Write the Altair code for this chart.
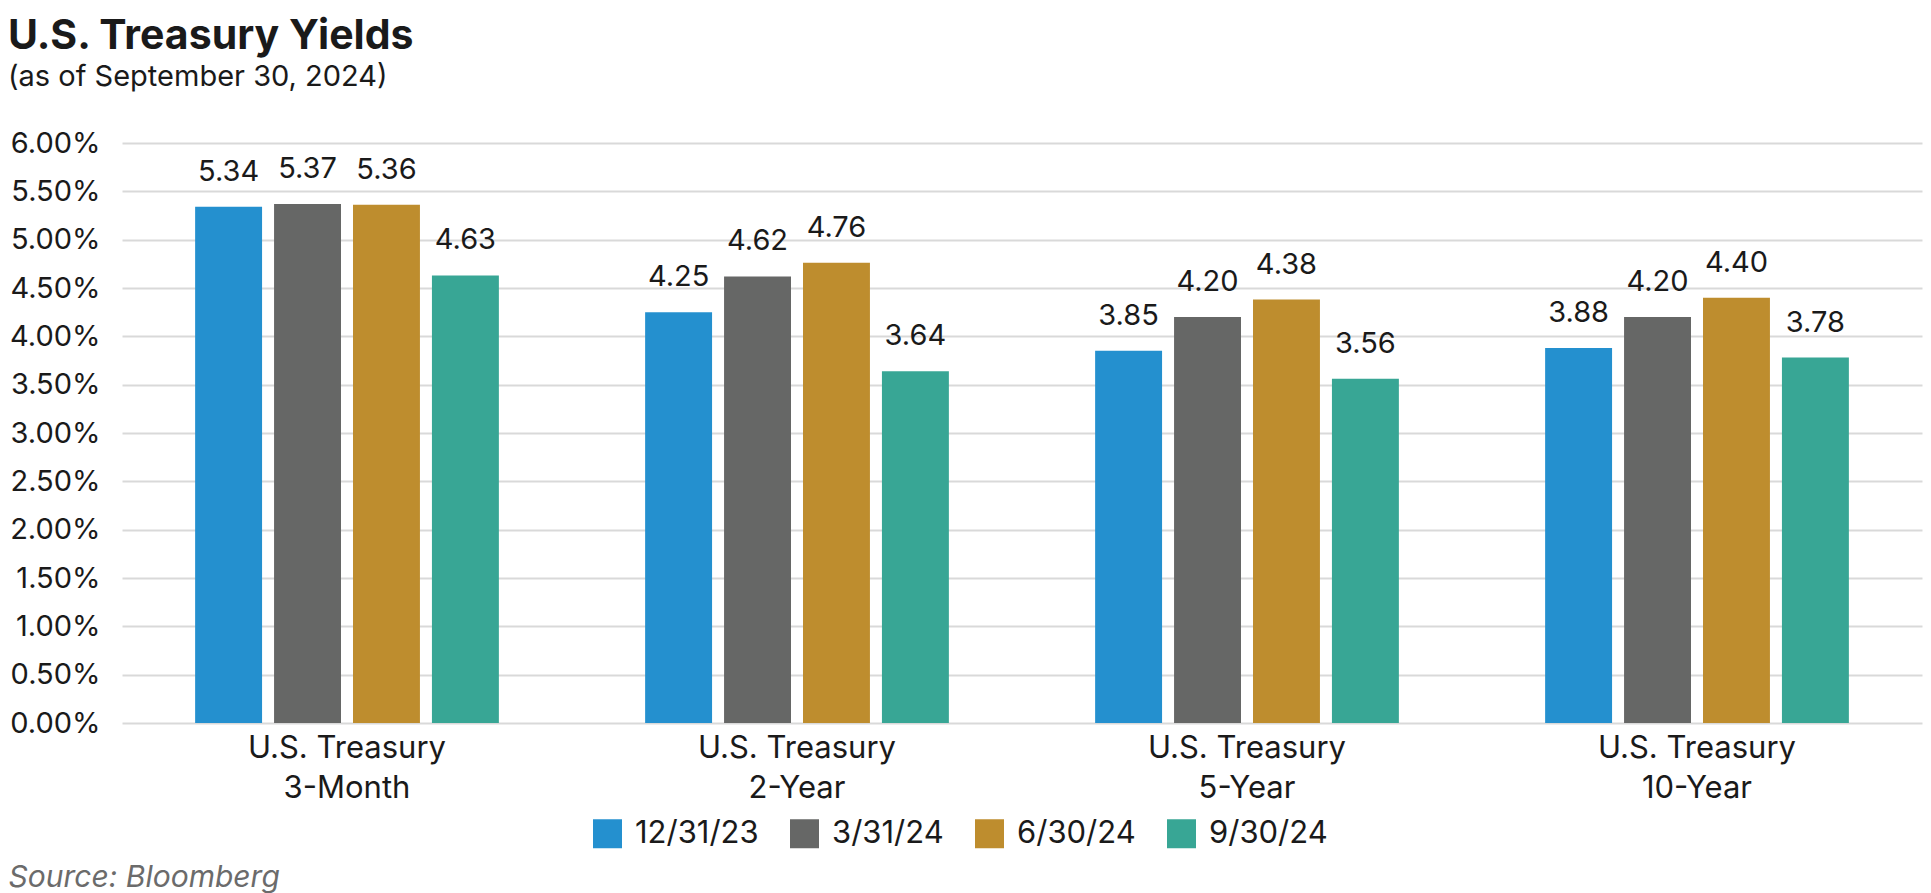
import altair as alt
import pandas as pd

maturities = ["U.S. Treasury|3-Month", "U.S. Treasury|2-Year", "U.S. Treasury|5-Year", "U.S. Treasury|10-Year"]
dates = ["12/31/23", "3/31/24", "6/30/24", "9/30/24"]
colors = ["#2490CF", "#666766", "#BE8D2E", "#38A695"]
yields_1231_23 = [5.34, 4.25, 3.85, 3.88]
yields_0331_24 = [5.37, 4.62, 4.20, 4.20]
yields_0630_24 = [5.36, 4.76, 4.38, 4.40]
yields_0930_24 = [4.63, 3.64, 3.56, 3.78]
y_ticks = [0, 0.5, 1, 1.5, 2, 2.5, 3, 3.5, 4, 4.5, 5, 5.5, 6]

series = [yields_1231_23, yields_0331_24, yields_0630_24, yields_0930_24]
rows = []
for d, vals in zip(dates, series):
    for m, v in zip(maturities, vals):
        rows.append({"maturity": m, "date": d, "value": v})
df = pd.DataFrame(rows)

FONT = "Inter"
TXT = "#1a1a1a"

x_enc = alt.X(
    "maturity:N",
    sort=maturities,
    scale=alt.Scale(paddingInner=0.325, paddingOuter=0.1625),
    axis=alt.Axis(
        title="Source: Bloomberg",
        titleFont=FONT,
        titleFontSize=30,
        titleFontStyle="italic",
        titleFontWeight="normal",
        titleColor="#6b6b6b",
        titleAnchor="start",
        titleAlign="left",
        titleBaseline="alphabetic",
        titleX=-114,
        titleY=163,
        labelExpr="split(datum.label, '|')",
        labelFont=FONT,
        labelFontSize=31,
        labelColor=TXT,
        labelLineHeight=40,
        labelPadding=10,
        labelLimit=500,
        labelAngle=0,
        domain=False,
        ticks=False,
    ),
)
xoff = alt.XOffset("date:N", sort=dates, scale=alt.Scale(paddingInner=0.152, paddingOuter=0))
y_enc = alt.Y(
    "value:Q",
    scale=alt.Scale(domain=[0, 6], nice=False),
    axis=alt.Axis(
        title=None,
        values=y_ticks,
        labelExpr="format(datum.value, '.2f') + '%'",
        labelFont=FONT,
        labelFontSize=29,
        labelColor=TXT,
        labelPadding=22,
        domain=False,
        ticks=False,
        grid=True,
        gridColor="#d9d9d9",
        gridWidth=2,
    ),
)

bars = alt.Chart(df).mark_bar().encode(
    x=x_enc,
    xOffset=xoff,
    y=y_enc,
    color=alt.Color(
        "date:N",
        sort=dates,
        scale=alt.Scale(domain=dates, range=colors),
        legend=alt.Legend(
            title=None,
            orient="none",
            direction="horizontal",
            legendX=470,
            legendY=675,
            padding=0,
            symbolType="square",
            symbolSize=841,
            symbolStrokeWidth=0,
            symbolOpacity=1,
            labelFont=FONT,
            labelFontSize=31,
            labelColor=TXT,
            labelOffset=12,
            columnPadding=30,
        ),
    ),
)

labels = alt.Chart(df).mark_text(
    font=FONT, fontSize=29, color=TXT, baseline="alphabetic", dy=-26
).encode(
    x=alt.X("maturity:N", sort=maturities),
    xOffset=alt.XOffset("date:N", sort=dates),
    y="value:Q",
    text=alt.Text("value:Q", format=".2f"),
)

chart = (
    alt.layer(bars, labels)
    .properties(
        width=1800,
        height=580,
        padding={"left": 114, "top": 135, "right": 1, "bottom": 170},
        autosize=alt.AutoSizeParams(type="none"),
        title=alt.TitleParams(
            text="U.S. Treasury Yields",
            subtitle="(as of September 30, 2024)",
            anchor="start",
            frame="group",
            dx=-114,
            font=FONT,
            fontSize=41,
            fontWeight="bold",
            color=TXT,
            subtitleFont=FONT,
            subtitleFontSize=29,
            subtitleColor=TXT,
            subtitlePadding=5,
            offset=36,
        ),
    )
    .configure_view(stroke=None)
)

chart.save("out.html", embed_options={"renderer": "svg", "actions": False})
